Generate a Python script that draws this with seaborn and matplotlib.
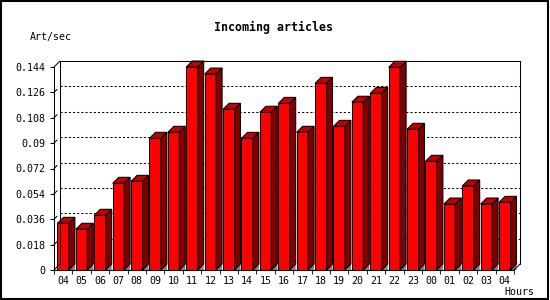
import numpy as np
import pandas as pd
import seaborn as sns
import matplotlib
matplotlib.use("Agg")
import matplotlib.pyplot as plt
from matplotlib.patches import Polygon, Rectangle
from matplotlib.lines import Line2D

hours = ["04", "05", "06", "07", "08", "09", "10", "11", "12", "13", "14", "15", "16",
         "17", "18", "19", "20", "21", "22", "23", "00", "01", "02", "03", "04"]
rates = [0.0331, 0.0289, 0.0388, 0.0615, 0.0629, 0.0934, 0.0977, 0.1440, 0.1390,
         0.1140, 0.0934, 0.1119, 0.1182, 0.0977, 0.1324, 0.1019, 0.1190, 0.1253,
         0.1438, 0.0998, 0.0771, 0.0468, 0.0596, 0.0468, 0.0480]
yticks = [0, 0.018, 0.036, 0.054, 0.072, 0.09, 0.108, 0.126, 0.144]
ytick_labels = ["0", "0.018", "0.036", "0.054", "0.072", "0.09", "0.108", "0.126", "0.144"]
title = "Incoming articles"
ylabel = "Art/sec"
xlabel = "Hours"

sns.set_theme(style="white")
plt.rcParams['font.family'] = ['DejaVu Sans Mono', 'DejaVu Sans']

W, H = 550, 300
fig = plt.figure(figsize=(5.5, 3), dpi=100)
fig.patch.set_facecolor("white")
ax_l, ax_b, ax_w, ax_h = 54, 30, 460, 203
ax = fig.add_axes([ax_l / W, ax_b / H, ax_w / W, ax_h / H])
ax.set_facecolor("none")

n = len(hours)
df = pd.DataFrame({"idx": list(range(n)), "rate": rates})
sns.barplot(data=df, x="idx", y="rate", color="#ff0000", saturation=1, width=0.62,
            edgecolor="black", linewidth=0.75, ax=ax, zorder=3)
ax.set_xlim(-0.5, n - 0.5)
ymax = yticks[-1]
ax.set_ylim(0, ymax)

# 3D depth offsets, 6 px right / up, converted into data units
dx = 6 * (n / ax_w)
dy = 6 * (ymax / ax_h)

for p in list(ax.patches):
    p.set_clip_on(False)
    x0 = p.get_x()
    x1 = x0 + p.get_width()
    h = p.get_height()
    # floor shadow
    ax.add_patch(Polygon([(x1, 0), (x1 + dx, dy), (x1 + dx, 0)], closed=True,
                         facecolor="#808080", edgecolor="none", zorder=2, clip_on=False))
    # side face
    ax.add_patch(Polygon([(x1, 0), (x1, h), (x1 + dx, h + dy), (x1 + dx, dy)], closed=True,
                         facecolor="#800000", edgecolor="black", linewidth=0.75,
                         zorder=3, clip_on=False))
    # top face
    ax.add_patch(Polygon([(x0, h), (x1, h), (x1 + dx, h + dy), (x0 + dx, h + dy)], closed=True,
                         facecolor="#c00000", edgecolor="black", linewidth=0.75,
                         zorder=3, clip_on=False))

lw = 0.75
xl, xr = -0.5, n - 0.5
# back wall grid lines (dotted)
for t in yticks[1:-1]:
    ax.add_line(Line2D([xl + dx, xr + dx], [t + dy, t + dy], color="black", lw=lw,
                       linestyle=(0, (2, 2)), zorder=1, clip_on=False))
    # little diagonal at front axis
    ax.add_line(Line2D([xl, xl + dx * 0.5], [t, t + dy * 0.5], color="black", lw=lw,
                       zorder=1, clip_on=False))
# frame lines
frame = [
    ([xl, xl], [0, ymax]),
    ([xl, xl + dx], [ymax, ymax + dy]),
    ([xl + dx, xl + dx], [dy, ymax + dy]),
    ([xl + dx, xr + dx], [ymax + dy, ymax + dy]),
    ([xr + dx, xr + dx], [dy, ymax + dy]),
    ([xr, xr + dx], [0, dy]),
    ([xl, xl + dx], [0, dy]),
    ([xl, xr], [0, 0]),
]
for xs, ys in frame:
    ax.add_line(Line2D(xs, ys, color="black", lw=lw, zorder=4, clip_on=False))

for s in ax.spines.values():
    s.set_visible(False)

ax.set_yticks(yticks)
ax.set_yticklabels(ytick_labels)
ax.set_xticks(range(n))
ax.set_xticklabels(hours)
ax.set_xticks(np.arange(-0.5, n, 1.0), minor=True)
ax.tick_params(axis="y", which="major", left=True, length=3, width=lw, pad=3,
               labelsize=7.2, colors="black")
ax.tick_params(axis="x", which="major", bottom=True, length=0, pad=4.5,
               labelsize=7.2, colors="black")
ax.tick_params(axis="x", which="minor", bottom=True, length=3, width=lw)
ax.set_xlabel("")
ax.set_ylabel("")
ax.grid(False)

fig.text(274 / W, 1 - 27 / H, title, ha="center", va="center", fontsize=8.4,
         fontweight="bold", color="black")
fig.text(30 / W, 1 - 37 / H, ylabel, ha="left", va="center", fontsize=7.2, color="black")
fig.text(504 / W, 1 - 292 / H, xlabel, ha="left", va="center", fontsize=7.2, color="black")

fig.add_artist(Rectangle((0.5 / W, 1.5 / H), 547.5 / W, 297.5 / H, transform=fig.transFigure,
                         fill=False, edgecolor="black", linewidth=1.5))

fig.savefig("out.png", dpi=100)
